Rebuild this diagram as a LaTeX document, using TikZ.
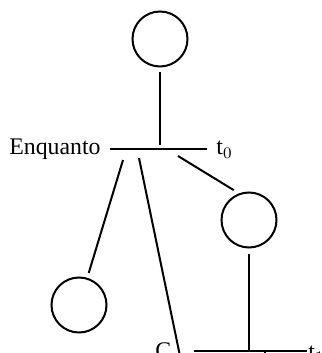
\documentclass[tikz,border=0pt]{standalone}
\usepackage{fontspec}
\setmainfont{Liberation Serif}
\usepackage{tikz}

\tikzset{
  estado/.style={draw,circle,line width=1pt,inner sep=0pt,minimum size=27.5pt,outer sep=3pt},
  ramo/.style={line width=1pt},
  rotulo/.style={inner sep=0pt,font=\fontsize{11.9}{14}\selectfont}
}

\begin{document}
\begin{tikzpicture}[x=0.5pt,y=-0.5pt]
        \useasboundingbox (0,0) rectangle (321,353);
        \clip (0,0) rectangle (321,353);

        % Estados
        \node[estado] (inicio) at (160,39) {};
        \node[estado] (ramoA) at (79,305) {};
        \node[estado] (ramoB) at (249,220) {};

        % Barra do enquanto
        \coordinate (barE) at (110,149);
        \coordinate (barD) at (207,149);
        \coordinate (topo) at (160,145);
        \draw[ramo] (barE) -- (barD);
        \draw[ramo] (inicio) -- (topo);
        \node[rotulo,anchor=base east] (enq) at (101,155) {Enquanto};
        \node[rotulo,anchor=base west] (t0) at (216,155) {t$_0$};

        % Ramos que saem da barra
        \coordinate (saiA) at (123,160);
        \coordinate (saiM) at (139,158);
        \coordinate (fimM) at (186,385);
        \coordinate (saiB) at (178,156);
        \draw[ramo] (saiA) -- (ramoA);
        \draw[ramo] (saiM) -- (fimM);
        \draw[ramo] (saiB) -- (ramoB.117);

        % Barra de baixo
        \coordinate (baixo) at (249,351);
        \coordinate (barE2) at (194,351);
        \coordinate (barD2) at (307,351);
        \coordinate (desce) at (265,380);
        \draw[ramo] (ramoB) -- (baixo);
        \draw[ramo] (barE2) -- (barD2);
        \draw[ramo] (265,351) -- (desce);
        \node[rotulo,anchor=base west] (cond) at (155,358) {C};
        \node[rotulo,anchor=base west] (t1) at (308,359) {t$_1$};
    \end{tikzpicture}
\end{document}
